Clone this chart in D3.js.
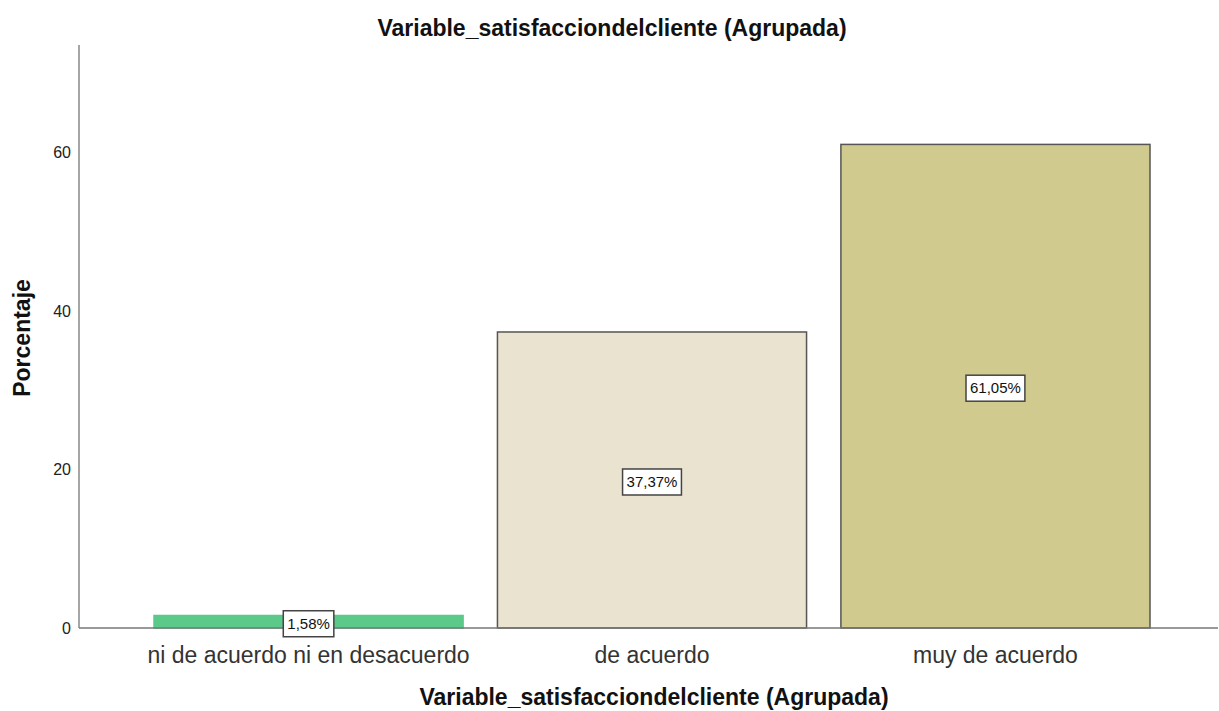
<!DOCTYPE html>
<html>
<head>
<meta charset="utf-8">
<script src="https://cdn.jsdelivr.net/npm/d3@7"></script>
<style>
  html,body{margin:0;padding:0;background:#fff;}
  svg{display:block;font-family:"Liberation Sans",Arial,sans-serif;}
</style>
</head>
<body>
<div id="chart"></div>
<script>
// Balkendiagramm SPSS-Stil
const categories = ["ni de acuerdo ni en desacuerdo","de acuerdo","muy de acuerdo"];
const values = [1.58, 37.37, 61.05];
const labels = ["1,58%","37,37%","61,05%"];
const fills = ["#5bc98a","#e9e3cf","#d0ca8f"];
const strokes = ["#5bc98a","#555","#555"];
const yTicks = [0,20,40,60];
const titleText = "Variable_satisfacciondelcliente (Agrupada)";

const W=1219, H=711;
const svg=d3.select("#chart").append("svg").attr("width",W).attr("height",H);

const x=d3.scaleBand().domain(categories).range([86,1218]).paddingInner(0.1).paddingOuter(0.198);
const y=d3.scaleLinear().domain([0,73.6]).range([628,45]);

// Balken
svg.append("g").selectAll("rect").data(values).join("rect")
  .attr("x",(d,i)=>x(categories[i])).attr("y",d=>y(d))
  .attr("width",x.bandwidth()).attr("height",d=>y(0)-y(d))
  .attr("fill",(d,i)=>fills[i]).attr("stroke",(d,i)=>strokes[i]).attr("stroke-width",1.5);

// Achsen
svg.append("line").attr("x1",79).attr("x2",79).attr("y1",45).attr("y2",628).attr("stroke","#888").attr("stroke-width",1.5);
svg.append("line").attr("x1",79).attr("x2",1218).attr("y1",628).attr("y2",628).attr("stroke","#777").attr("stroke-width",1.5);

svg.append("g").selectAll("text").data(yTicks).join("text")
  .attr("x",71).attr("y",d=>y(d)).attr("dy",".35em").attr("text-anchor","end")
  .attr("font-size",16).attr("fill","#222").text(d=>d);

svg.append("g").selectAll("text").data(categories).join("text")
  .attr("x",d=>x(d)+x.bandwidth()/2).attr("y",663).attr("text-anchor","middle")
  .attr("font-size",23).attr("fill","#333").text(d=>d);

// Wertelabels
const lg=svg.append("g").selectAll("g").data(values).join("g")
  .attr("transform",(d,i)=>`translate(${x(categories[i])+x.bandwidth()/2},${(y(0)+y(d))/2+2})`);
lg.each(function(d,i){
  const g=d3.select(this);
  const t=g.append("text").attr("text-anchor","middle").attr("dy",".35em").attr("font-size",15).attr("fill","#111").text(labels[i]);
  const bb=t.node().getBBox();
  g.insert("rect","text").attr("x",bb.x-4).attr("y",-13).attr("width",bb.width+8).attr("height",26)
    .attr("fill","#fff").attr("stroke","#444").attr("stroke-width",1.5);
});

// Titel
svg.append("text").attr("x",612).attr("y",36).attr("text-anchor","middle").attr("font-size",23).attr("font-weight","bold").attr("fill","#111").text(titleText);
svg.append("text").attr("x",654).attr("y",705).attr("text-anchor","middle").attr("font-size",23).attr("font-weight","bold").attr("fill","#111").text(titleText);
svg.append("text").attr("transform","translate(30,338) rotate(-90)").attr("text-anchor","middle").attr("font-size",23).attr("font-weight","bold").attr("fill","#111").text("Porcentaje");
</script>
</body>
</html>
